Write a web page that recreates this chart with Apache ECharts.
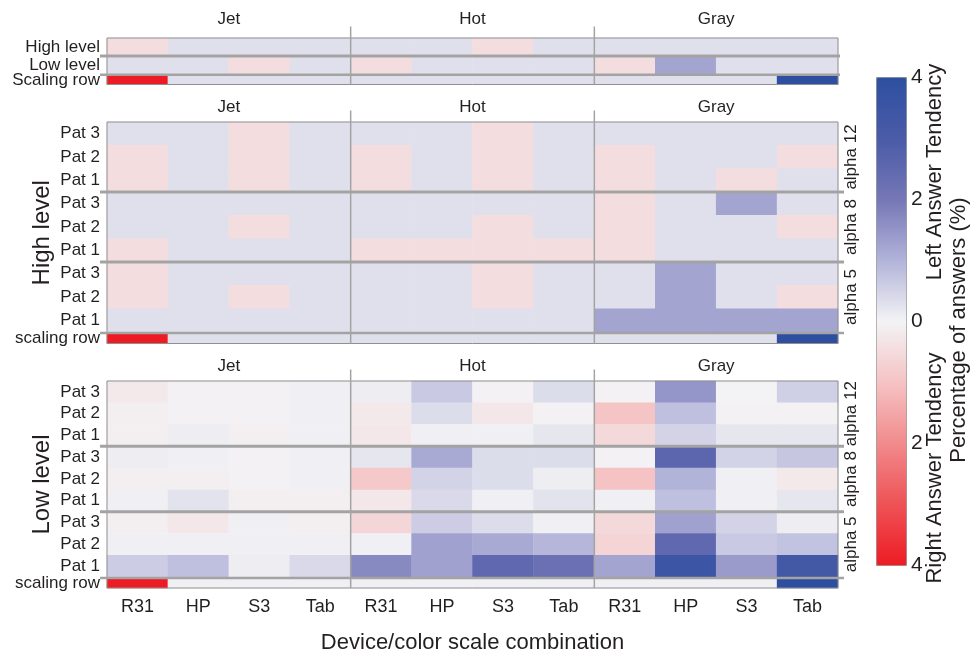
<!DOCTYPE html>
<html>
<head>
<meta charset="utf-8">
<script src="https://cdn.jsdelivr.net/npm/echarts@6/dist/echarts.min.js"></script>
<style>
  html, body { margin: 0; padding: 0; background: #ffffff; }
  #chart { width: 973px; height: 651px; }
</style>
</head>
<body>
<div id="chart"></div>
<script>
// ---- categories ----
const scaleNames = ['Jet', 'Hot', 'Gray'];
const deviceNames = ['R31', 'HP', 'S3', 'Tab', 'R31', 'HP', 'S3', 'Tab', 'R31', 'HP', 'S3', 'Tab'];
const summaryRows = ['High level', 'Low level'];
const patientRows = ['Pat 3', 'Pat 2', 'Pat 1', 'Pat 3', 'Pat 2', 'Pat 1', 'Pat 3', 'Pat 2', 'Pat 1'];
const alphaGroups = ['alpha 12', 'alpha 8', 'alpha 5'];
const colorbarTicks = [-4, -2, 0, 2, 4];

// ---- values: answer tendency (negative = right, positive = left) ----
const summaryValues = [
  [-0.45, 0.3, 0.3, 0.3,   0.3, 0.3, -0.45, 0.3,   0.3, 0.3, 0.3, 0.3],
  [0.3, 0.3, -0.45, 0.3,   -0.45, 0.3, 0.3, 0.3,   -0.45, 1.25, 0.3, 0.3]
];
const summaryScaling = [-4, 0.3, 0.3, 0.3, 0.3, 0.3, 0.3, 0.3, 0.3, 0.3, 0.3, 4];

const highValues = [
  [0.3, 0.3, -0.45, 0.3,   0.3, 0.3, -0.45, 0.3,   0.3, 0.3, 0.3, 0.3],
  [-0.45, 0.3, -0.45, 0.3, -0.45, 0.3, -0.45, 0.3, -0.45, 0.3, 0.3, -0.45],
  [-0.45, 0.3, -0.45, 0.3, -0.45, 0.3, -0.45, 0.3, -0.45, 0.3, -0.45, 0.3],
  [0.3, 0.3, 0.3, 0.3,     0.3, 0.3, 0.3, 0.3,     -0.45, 0.3, 1.25, 0.3],
  [0.3, 0.3, -0.45, 0.3,   0.3, 0.3, -0.45, 0.3,   -0.45, 0.3, 0.3, -0.45],
  [-0.45, 0.3, 0.3, 0.3,   -0.45, -0.45, -0.45, -0.45, -0.45, 0.3, 0.3, 0.3],
  [-0.45, 0.3, 0.3, 0.3,   0.3, 0.3, -0.45, 0.3,   0.3, 1.25, 0.3, 0.3],
  [-0.45, 0.3, -0.45, 0.3, 0.3, 0.3, -0.45, 0.3,   0.3, 1.25, 0.3, -0.45],
  [0.3, 0.3, 0.3, 0.3,     0.3, 0.3, 0.3, 0.3,     1.25, 1.25, 1.25, 1.25]
];
const highScaling = [-4, 0.3, 0.3, 0.3, 0.3, 0.3, 0.3, 0.3, 0.3, 0.3, 0.3, 4];

const lowValues = [
  [-0.2, -0.05, -0.05, 0.05,  0.1, 0.65, -0.05, 0.35,   -0.05, 1.5, 0, 0.55],
  [-0.1, -0.05, -0.05, 0.05,  -0.2, 0.35, -0.25, -0.05, -0.95, 0.8, -0.05, -0.05],
  [-0.1, 0.1, -0.08, 0.05,    -0.25, 0.05, 0.05, 0.2,   -0.55, 0.5, 0.2, 0.2],
  [0.1, 0.05, -0.05, 0.05,    0.2, 1.15, 0.35, 0.35,    -0.05, 2.6, 0.5, 0.7],
  [-0.1, -0.1, -0.05, 0.05,   -0.9, 0.5, 0.35, 0.1,     -1.0, 1.0, 0.05, -0.2],
  [0.05, 0.25, -0.08, -0.08,  -0.25, 0.4, 0.05, 0.25,   0.05, 0.8, 0.05, 0.2],
  [-0.08, -0.25, 0.05, -0.1,  -0.6, 0.6, 0.35, 0.05,    -0.55, 1.3, 0.5, 0.1],
  [0.05, 0.05, 0.05, 0.05,    0.05, 1.3, 1.15, 0.95,    -0.65, 2.5, 0.65, 0.75],
  [0.6, 0.8, 0.1, 0.4,        1.7, 1.3, 2.5, 2.25,      1.25, 3.5, 1.4, 3.2]
];
const lowScaling = [-4, 0.05, 0.05, 0.05, 0.05, 0.05, 0.05, 0.05, 0.05, 0.05, 0.05, 4];

// diverging palette, red (-4) through white (0) to blue (+4)
const colorStops = ['#ed1c24', '#ee5256', '#f18a8c', '#f5c3c4', '#f3f3f5', '#b2b3d9', '#7577b6', '#4a5ba8', '#2e4fa0'];

const FONT = "'Liberation Sans', Arial, Helvetica, sans-serif";
const INK = '#231f20';
const RULE = '#a3a3a3';

// panel layout: main grid followed by its scaling-row grid
const gridBoxes = [
  { top: 38,  height: 36 },   // summary
  { top: 75.5, height: 9 },   // summary scaling row
  { top: 122, height: 210 },  // high level
  { top: 334, height: 9.5 },  // high level scaling row
  { top: 381, height: 196 },  // low level
  { top: 579, height: 9 }     // low level scaling row
];
const rowSets = [summaryRows, ['Scaling row'], patientRows, ['scaling row'], patientRows, ['scaling row']];
const valueSets = [summaryValues, [summaryScaling], highValues, [highScaling], lowValues, [lowScaling]];

function toCells(rows) {
  const out = [];
  rows.forEach((row, r) => row.forEach((v, c) => out.push([c, r, v])));
  return out;
}

const grids = gridBoxes.map(b => ({
  left: 107, width: 731, top: b.top, height: b.height, show: false,
  containLabel: false, outerBoundsMode: 'none'
}));
// colorbar tick labels
grids.push({ left: 905, width: 1, top: 77, height: 488, show: false, containLabel: false, outerBoundsMode: 'none' });

const xAxes = gridBoxes.map((b, i) => ({
  type: 'category', gridIndex: i, data: deviceNames, position: 'bottom',
  axisLine: { show: false }, axisTick: { show: false }, splitLine: { show: false },
  axisLabel: { show: i === 5, interval: 0, fontSize: 18, fontFamily: FONT, color: INK, margin: 10 },
  name: i === 5 ? 'Device/color scale combination' : '',
  nameLocation: 'middle', nameGap: 44,
  nameTextStyle: { fontSize: 22, fontFamily: FONT, color: INK }
}));
[0, 2, 4].forEach((g, k) => xAxes.push({
  type: 'category', gridIndex: g, data: scaleNames, position: 'top',
  axisLine: { show: false }, axisTick: { show: false }, splitLine: { show: false },
  axisLabel: { interval: 0, fontSize: 17, fontFamily: FONT, color: INK, margin: k === 0 ? 10 : 6 }
}));
xAxes.push({ type: 'value', gridIndex: 6, show: false });

const yAxes = rowSets.map((rows, i) => ({
  type: 'category', gridIndex: i, data: rows, inverse: true,
  axisLine: { show: false }, axisTick: { show: false }, splitLine: { show: false },
  axisLabel: { interval: 0, fontSize: 17, fontFamily: FONT, color: INK, margin: 7 }
}));
yAxes.push({
  type: 'value', gridIndex: 6, min: -4, max: 4, interval: 2, position: 'right',
  axisLine: { show: false }, axisTick: { show: false }, splitLine: { show: false },
  axisLabel: { fontSize: 21, fontFamily: FONT, color: INK, margin: 5, formatter: v => String(Math.abs(v)) }
});

const series = valueSets.map((vals, i) => ({
  type: 'heatmap', xAxisIndex: i, yAxisIndex: i, data: toCells(vals),
  itemStyle: { borderWidth: 0 }, emphasis: { disabled: true }, silent: true
}));

const chart = echarts.init(document.getElementById('chart'), null, { renderer: 'canvas' });
chart.setOption({
  animation: false,
  backgroundColor: '#ffffff',
  textStyle: { fontFamily: FONT },
  grid: grids,
  xAxis: xAxes,
  yAxis: yAxes,
  visualMap: {
    type: 'continuous', min: -4, max: 4, seriesIndex: [0, 1, 2, 3, 4, 5],
    left: 876, top: 77, itemWidth: 30, itemHeight: 488, padding: 0,
    calculable: false, hoverLink: false, text: null,
    borderColor: '#8f8f8f', borderWidth: 1,
    inRange: { color: colorStops }
  },
  series: series
});

// ---- rules, frames and group labels placed through the axes ----
function xEdge(axis, k) {
  const a = chart.convertToPixel({ xAxisIndex: axis }, 0);
  const b = chart.convertToPixel({ xAxisIndex: axis }, 1);
  return a + (b - a) * (k - 0.5);
}
function yEdge(axis, k) {
  const a = chart.convertToPixel({ yAxisIndex: axis }, 0);
  const b = chart.convertToPixel({ yAxisIndex: axis }, 1);
  return a + (b - a) * (k - 0.5);
}
function yEdgeSingle(axis, k) {
  // one-row axis: the band spans the whole grid
  const g = gridBoxes[axis];
  const c = chart.convertToPixel({ yAxisIndex: axis }, 0);
  return k === 0 ? c - g.height / 2 : c + g.height / 2;
}

const elements = [];
const panels = [
  { main: 0, scale: 1, rows: summaryRows.length, block: 1, label: null },
  { main: 2, scale: 3, rows: patientRows.length, block: 3, label: 'High level' },
  { main: 4, scale: 5, rows: patientRows.length, block: 3, label: 'Low level' }
];
panels.forEach((p, pi) => {
  const left = xEdge(p.main, 0), right = xEdge(p.main, deviceNames.length);
  const top = yEdge(p.main, 0), mainBottom = yEdge(p.main, p.rows);
  const sTop = yEdgeSingle(p.scale, 0), sBottom = yEdgeSingle(p.scale, 1);
  const ext = pi === 0 ? 2 : 6;

  elements.push({ type: 'rect', z: 100, shape: { x: left, y: top, width: right - left, height: sBottom - top },
    style: { fill: null, stroke: '#8f8f8f', lineWidth: 1 } });

  // block separators inside the panel
  for (let k = p.block; k < p.rows; k += p.block) {
    const y = yEdge(p.main, k);
    elements.push({ type: 'line', z: 101, shape: { x1: left - 7, y1: y, x2: right + ext, y2: y },
      style: { stroke: RULE, lineWidth: 3 } });
  }
  // separator above the scaling row
  const ys = (mainBottom + sTop) / 2;
  elements.push({ type: 'line', z: 101, shape: { x1: left - 7, y1: ys, x2: right + ext, y2: ys },
    style: { stroke: RULE, lineWidth: 2.5 } });

  // colour-scale group dividers
  [4, 8].forEach(k => {
    const x = xEdge(p.main, k);
    elements.push({ type: 'line', z: 101, shape: { x1: x, y1: top - 11.5, x2: x, y2: sBottom },
      style: { stroke: RULE, lineWidth: 1.5 } });
  });

  if (p.label) {
    elements.push({ type: 'text', z: 102, x: 42, y: (top + sBottom) / 2, rotation: Math.PI / 2,
      style: { text: p.label, fill: INK, font: '24px ' + FONT, align: 'center', verticalAlign: 'middle' } });
    alphaGroups.forEach((name, g) => {
      const yc = (yEdge(p.main, g * 3) + yEdge(p.main, g * 3 + 3)) / 2;
      elements.push({ type: 'text', z: 102, x: right + 13, y: yc, rotation: Math.PI / 2,
        style: { text: name, fill: INK, font: '17px ' + FONT, align: 'center', verticalAlign: 'middle' } });
    });
  }
});

// colorbar captions
elements.push({ type: 'text', z: 102, x: 935, y: 172, rotation: Math.PI / 2,
  style: { text: 'Left Answer Tendency', fill: INK, font: '22px ' + FONT, align: 'center', verticalAlign: 'middle' } });
elements.push({ type: 'text', z: 102, x: 935, y: 468, rotation: Math.PI / 2,
  style: { text: 'Right Answer Tendency', fill: INK, font: '22px ' + FONT, align: 'center', verticalAlign: 'middle' } });
elements.push({ type: 'text', z: 102, x: 959, y: 330, rotation: Math.PI / 2,
  style: { text: 'Percentage of answers (%)', fill: INK, font: '22px ' + FONT, align: 'center', verticalAlign: 'middle' } });

chart.setOption({ graphic: { elements: elements } });
</script>
</body>
</html>
